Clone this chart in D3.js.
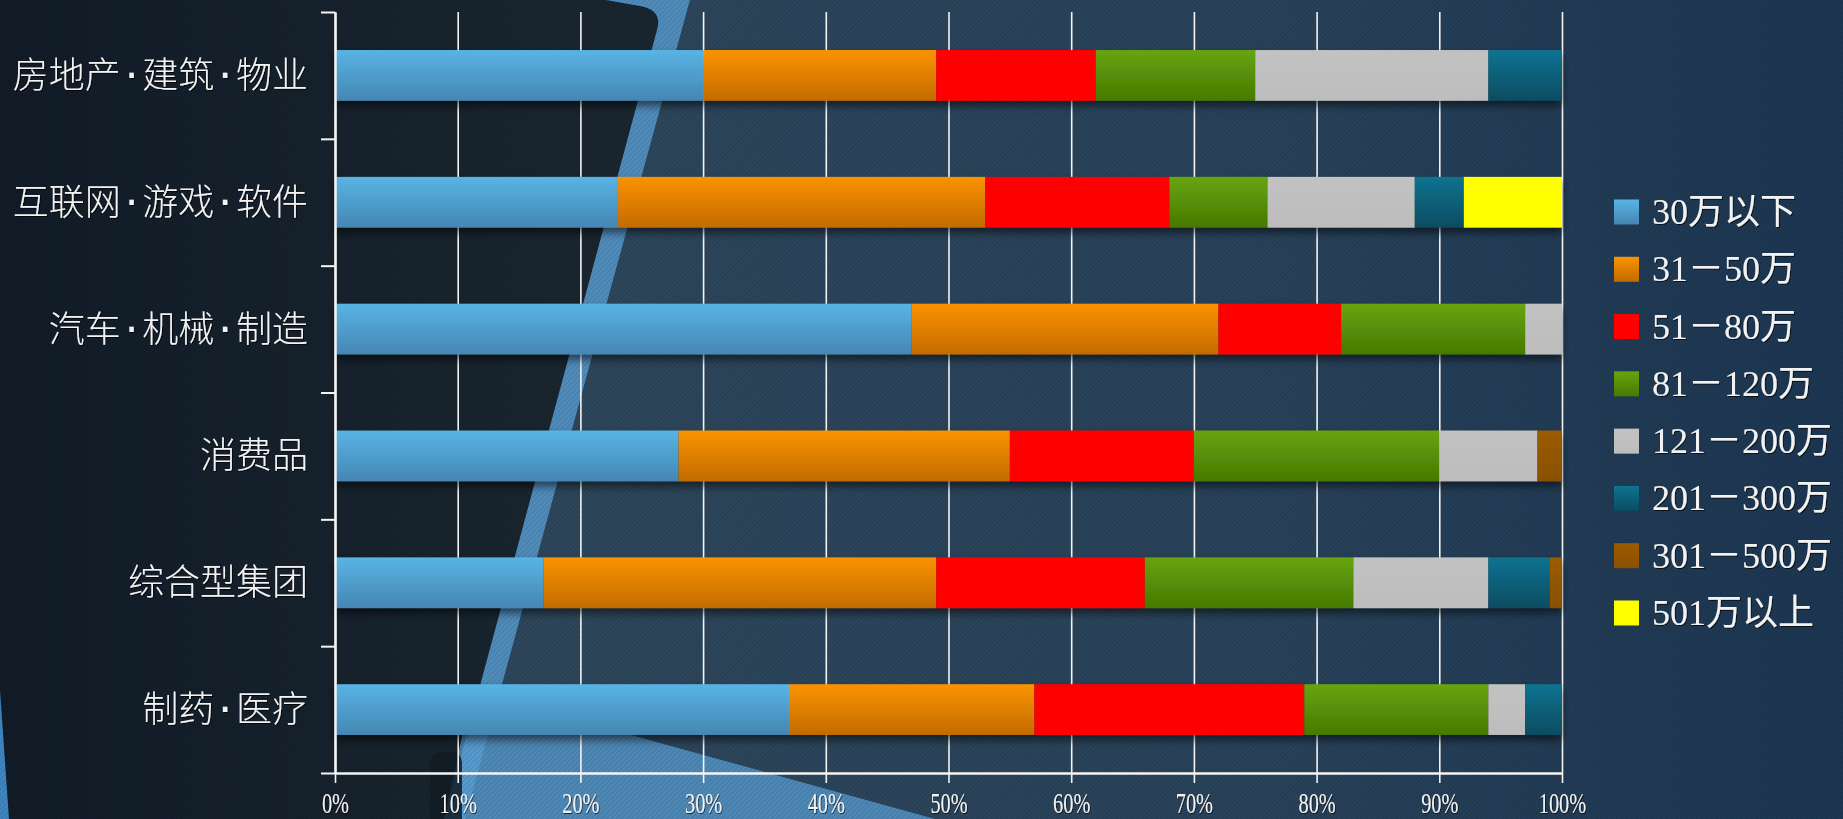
<!DOCTYPE html>
<html>
<head>
<meta charset="utf-8">
<script src="https://cdn.jsdelivr.net/npm/d3@7/dist/d3.min.js"></script>
<style>
  body { margin: 0; background: #16222e; overflow: hidden; }
  svg { display: block; }
</style>
</head>
<body>
<div id="plotdiv"></div>
<script>
// data (percent of each industry, by salary band)
const categories = ["房地产·建筑·物业", "互联网·游戏·软件", "汽车·机械·制造", "消费品", "综合型集团", "制药·医疗"];
const seriesNames = ["30万以下", "31－50万", "51－80万", "81－120万", "121－200万", "201－300万", "301－500万", "501万以上"];
const s_0_30    = [30, 23, 47, 28, 17, 37];
const s_31_50   = [19, 30, 25, 27, 32, 20];
const s_51_80   = [13, 15, 10, 15, 17, 22];
const s_81_120  = [13,  8, 15, 20, 17, 15];
const s_121_200 = [19, 12,  3,  8, 11,  3];
const s_201_300 = [ 6,  4,  0,  0,  5,  3];
const s_301_500 = [ 0,  0,  0,  2,  1,  0];
const s_501     = [ 0,  8,  0,  0,  0,  0];
const xTicks = [0, 10, 20, 30, 40, 50, 60, 70, 80, 90, 100];

// top / bottom colour of each series gradient
const seriesColors = [
  ["#59b4e4", "#4586b2"],
  ["#fb9300", "#c36b00"],
  ["#ff0000", "#ff0000"],
  ["#67a50b", "#467904"],
  ["#c2c2c2", "#bdbdbd"],
  ["#0f7391", "#0a4c61"],
  ["#9b5b00", "#8a5000"],
  ["#ffff00", "#ffff00"]
];

const allSeries = [s_0_30, s_31_50, s_51_80, s_81_120, s_121_200, s_201_300, s_301_500, s_501];

const table = categories.map((c, i) => {
  const row = {cat: c};
  seriesNames.forEach((s, j) => row[s] = allSeries[j][i]);
  return row;
});

const W = 1843, H = 819;
const margin = {top: 12, left: 335, right: 281, bottom: 46};
const width = W - margin.left - margin.right,
      height = H - margin.top - margin.bottom;

const svgRoot = d3.select("#plotdiv")
  .append("svg")
  .attr("width", W)
  .attr("height", H);

const defs = svgRoot.append("defs");

// background gradients + hatch
const bgGrad = defs.append("linearGradient").attr("id", "bgGrad")
  .attr("gradientUnits", "userSpaceOnUse").attr("x1", 0).attr("x2", W).attr("y1", 0).attr("y2", 0);
bgGrad.append("stop").attr("offset", 0).attr("stop-color", "#111c28");
bgGrad.append("stop").attr("offset", 0.3).attr("stop-color", "#19252f");
bgGrad.append("stop").attr("offset", 1).attr("stop-color", "#1b3551");

const rightGrad = defs.append("linearGradient").attr("id", "rightGrad")
  .attr("gradientUnits", "userSpaceOnUse").attr("x1", 450).attr("x2", W).attr("y1", 0).attr("y2", 0);
rightGrad.append("stop").attr("offset", 0).attr("stop-color", "#2e475c");
rightGrad.append("stop").attr("offset", 0.6).attr("stop-color", "#28425a");
rightGrad.append("stop").attr("offset", 1).attr("stop-color", "#1c3652");

const hatch = defs.append("pattern").attr("id", "hatch")
  .attr("patternUnits", "userSpaceOnUse").attr("width", 5).attr("height", 5);
hatch.append("path")
  .attr("d", "M0,5 L5,0 M-1,1 L1,-1 M4,6 L6,4")
  .attr("stroke", "rgba(0,0,0,0.1)")
  .attr("stroke-width", 1.2);

seriesColors.forEach((c, i) => {
  const g = defs.append("linearGradient").attr("id", "sg" + i)
    .attr("x1", 0).attr("x2", 0).attr("y1", 0).attr("y2", 1);
  g.append("stop").attr("offset", 0).attr("stop-color", c[0]);
  g.append("stop").attr("offset", 1).attr("stop-color", c[1]);
});

const shadow = defs.append("filter").attr("id", "barShadow")
  .attr("x", "-5%").attr("y", "-20%").attr("width", "110%").attr("height", "160%");
shadow.append("feDropShadow")
  .attr("dx", 0).attr("dy", 5).attr("stdDeviation", 4)
  .attr("flood-color", "#000").attr("flood-opacity", 0.55);

const textShadow = defs.append("filter").attr("id", "textShadow");
textShadow.append("feDropShadow")
  .attr("dx", 1).attr("dy", 1).attr("stdDeviation", 0.6)
  .attr("flood-color", "#000").attr("flood-opacity", 0.7);

// background decoration
const bg = svgRoot.append("g");
bg.append("rect").attr("width", W).attr("height", H).attr("fill", "url(#bgGrad)");
bg.append("path").attr("d", "M690,0 L1843,0 L1843,819 L465,819 Z").attr("fill", "url(#rightGrad)");
bg.append("path").attr("d", "M606,0 L690,0 L465,819 L444,819 L657,30 Q663,10 640,6 Z")
  .attr("fill", "#5a9fd4").attr("opacity", 0.85);
bg.append("path").attr("d", "M472,691 L935,819 L444,819 Z")
  .attr("fill", "#5a9fd4").attr("opacity", 0.75);
bg.append("rect").attr("x", 430).attr("y", 752).attr("width", 32).attr("height", 90).attr("rx", 10)
  .attr("fill", "#121c26").attr("opacity", 0.85);
bg.append("path").attr("d", "M0,690 L9,819 L0,819 Z").attr("fill", "#3f86c0");
bg.append("rect").attr("width", W).attr("height", H).attr("fill", "url(#hatch)");

const svg = svgRoot.append("g")
  .attr("transform", "translate(" + margin.left + "," + margin.top + ")");

// xy scale
const x = d3.scaleLinear().domain([0, 100]).range([0, width]);

const y = d3.scaleBand()
  .domain(categories)
  .range([0, height])
  .paddingInner(0.6)
  .paddingOuter(0.3);

const yb = d3.scaleLinear().domain([0, categories.length]).range([0, height]);

// grid
svg.append("g")
  .call(d3.axisBottom(x).tickValues(xTicks).tickSize(height).tickFormat(""))
  .call(g => g.select(".domain").remove())
  .call(g => g.selectAll("line").attr("stroke", "#f4f4f4").attr("stroke-width", 1.6));

// stacked bars
const stack = d3.stack().keys(seriesNames);
const layers = stack(table);

const barLayer = svg.append("g").attr("filter", "url(#barShadow)");

barLayer.selectAll("g")
  .data(layers)
  .enter()
  .append("g")
  .attr("fill", (d, i) => "url(#sg" + i + ")")
  .selectAll("rect")
  .data(d => d.filter(v => v[1] > v[0]))
  .enter()
  .append("rect")
  .attr("x", d => x(d[0]))
  .attr("y", d => y(d.data.cat))
  .attr("width", d => x(d[1]) - x(d[0]))
  .attr("height", y.bandwidth());

// axes
svg.append("g")
  .attr("transform", "translate(0," + height + ")")
  .call(d3.axisBottom(x).tickValues(xTicks).tickSize(10).tickSizeOuter(0).tickFormat(d => d + "%"))
  .call(g => g.select(".domain").attr("stroke", "#f4f4f4").attr("stroke-width", 2.5))
  .call(g => g.selectAll("line").attr("stroke", "#f4f4f4").attr("stroke-width", 1.6))
  .call(g => g.selectAll("text")
    .attr("y", 40)
    .attr("dy", 0)
    .attr("transform", "scale(0.7,1)")
    .attr("fill", "#f2f2f2")
    .attr("font-family", "'Liberation Serif', serif")
    .attr("font-size", 29)
    .attr("filter", "url(#textShadow)"));

svg.append("g")
  .call(d3.axisLeft(yb).ticks(categories.length).tickSize(14).tickSizeOuter(0).tickFormat(""))
  .call(g => g.select(".domain").attr("stroke", "#f4f4f4").attr("stroke-width", 2.5))
  .call(g => g.selectAll("line").attr("stroke", "#f4f4f4").attr("stroke-width", 2));

// category labels (mono font only supplies the half-width middle dot)
svg.append("g")
  .selectAll("text")
  .data(categories)
  .enter()
  .append("text")
  .attr("x", -27)
  .attr("y", d => y(d) + y.bandwidth() / 2)
  .attr("text-anchor", "end")
  .attr("dominant-baseline", "central")
  .attr("fill", "#f2f2f2")
  .attr("font-family", "'DejaVu Sans Mono', 'Noto Sans CJK SC', sans-serif")
  .attr("font-weight", 300)
  .attr("font-size", 36)
  .attr("filter", "url(#textShadow)")
  .text(d => d);

// legend
const ly = d3.scalePoint().domain(seriesNames).range([212, 613]);

const legend = svgRoot.append("g")
  .selectAll("g")
  .data(seriesNames)
  .enter()
  .append("g")
  .attr("transform", d => "translate(1614," + ly(d) + ")");

legend.append("rect")
  .attr("x", 0)
  .attr("y", -12.5)
  .attr("width", 25)
  .attr("height", 25)
  .attr("fill", (d, i) => "url(#sg" + i + ")");

legend.append("text")
  .attr("x", 38)
  .attr("y", 0)
  .attr("dominant-baseline", "central")
  .attr("fill", "#f2f2f2")
  .attr("font-family", "'Liberation Serif', 'Noto Sans CJK SC', serif")
  .attr("font-size", 36)
  .attr("filter", "url(#textShadow)")
  .text(d => d);
</script>
</body>
</html>
